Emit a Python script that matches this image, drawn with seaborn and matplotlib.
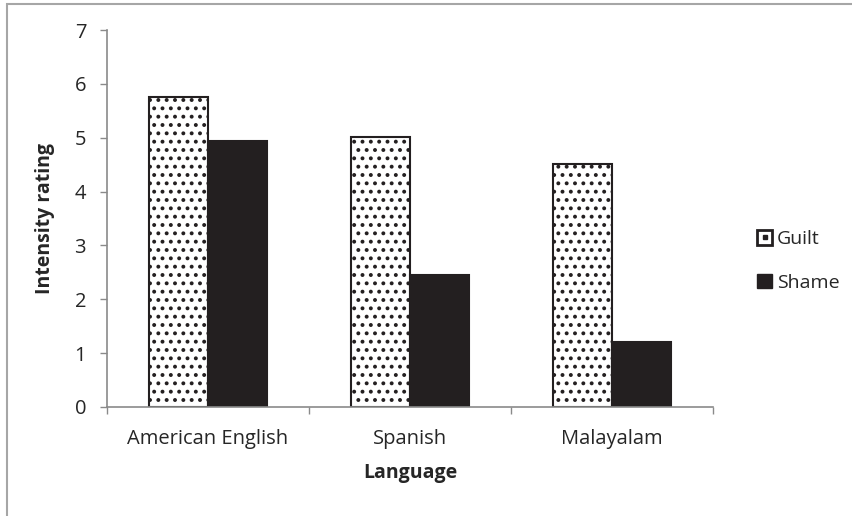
import matplotlib
matplotlib.use("Agg")
import matplotlib.pyplot as plt
import matplotlib.patches as mpatches
from matplotlib.lines import Line2D
from matplotlib.legend_handler import HandlerTuple
from matplotlib.ticker import FixedLocator
import pandas as pd
import seaborn as sns

LANGUAGES = ["American English", "Spanish", "Malayalam"]
EMOTIONS = ["Guilt", "Shame"]
GUILT = [5.75, 5.02, 4.52]
SHAME = [4.93, 2.46, 1.20]
Y_TICKS = [0, 1, 2, 3, 4, 5, 6, 7]

TEXT = "#262626"
AXIS_GRAY = "#8a8a8a"
DARK = "#231f20"

df = pd.DataFrame({
    "Language": LANGUAGES * 2,
    "Emotion": ["Guilt"] * 3 + ["Shame"] * 3,
    "Intensity": GUILT + SHAME,
})

sns.set_theme(style="white")
plt.rcParams["font.family"] = ["Open Sans", "DejaVu Sans"]
plt.rcParams["hatch.linewidth"] = 1.6
plt.rcParams["hatch.color"] = DARK

fig = plt.figure(figsize=(8.53, 5.16), dpi=100)
ax = fig.add_axes([107 / 853, 1 - 407 / 516, 606 / 853, 377 / 516])

sns.barplot(
    data=df, x="Language", y="Intensity", hue="Emotion",
    order=LANGUAGES, hue_order=EMOTIONS, width=0.58,
    palette={"Guilt": "white", "Shame": DARK},
    edgecolor=DARK, linewidth=1.5, saturation=1, legend=False, ax=ax,
)
for bar in ax.containers[0]:
    bar.set_hatch("..")

ax.set_xlim(-0.5, 2.5)
ax.set_ylim(0, 7)
ax.set_yticks(Y_TICKS)
ax.xaxis.set_minor_locator(FixedLocator([-0.5, 0.5, 1.5, 2.5]))
ax.tick_params(axis="x", which="major", length=0, pad=16, labelsize=14.5, colors=TEXT)
ax.tick_params(axis="x", which="minor", length=5, width=1, color=AXIS_GRAY, bottom=True)
ax.tick_params(axis="y", length=5, width=1, color=AXIS_GRAY, labelsize=14.5,
               labelcolor=TEXT, pad=10, left=True)
for s in ["top", "right"]:
    ax.spines[s].set_visible(False)
for s in ["left", "bottom"]:
    ax.spines[s].set_color(AXIS_GRAY)
    ax.spines[s].set_linewidth(1.2)

ax.set_xlabel("Language", fontsize=14, fontweight="bold", color=TEXT, labelpad=10)
ax.set_ylabel("Intensity rating", fontsize=14, fontweight="bold", color=TEXT, labelpad=14)

guilt_handle = (
    mpatches.Patch(facecolor="white", edgecolor=DARK, linewidth=2.0),
    Line2D([], [], marker="s", markersize=2.4, color=DARK, linestyle=""),
)
shame_handle = mpatches.Patch(facecolor=DARK, edgecolor=DARK)
fig.legend(handles=[guilt_handle, shame_handle], labels=EMOTIONS,
           handler_map={tuple: HandlerTuple(ndivide=1, pad=0)},
           loc="center left", bbox_to_anchor=(740 / 853, 1 - 261 / 516),
           frameon=False, fontsize=14, handlelength=0.75, handleheight=0.75,
           handletextpad=0.25, labelspacing=1.3, labelcolor=TEXT)

# outer chart border
fig.patches.append(mpatches.Rectangle((7 / 853, -0.1), 1.2, 0.1 + 1 - 4 / 516,
                                      transform=fig.transFigure, fill=False,
                                      edgecolor="#a6a6a6", linewidth=1.5))

fig.savefig("out.png", dpi=100)
